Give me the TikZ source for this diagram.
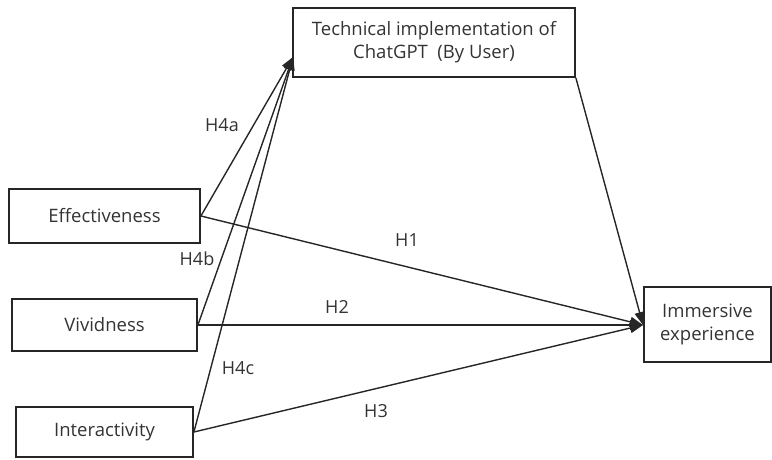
\documentclass[tikz,border=0pt]{standalone}
\usepackage{fontspec}
\setmainfont{Open Sans}
\usetikzlibrary{arrows.meta}
\begin{document}
\begin{tikzpicture}[x=1pt,y=-1pt,
  box/.style={draw=black!85,line width=1.8pt,inner sep=0pt,text=black!80,font=\fontsize{18.5}{23}\selectfont,align=center},
  conn/.style={draw=black!85,line width=1.4pt,-{Triangle[length=13pt,width=10pt]}},
  lab/.style={text=black!80,font=\fontsize{18}{22}\selectfont}]
\useasboundingbox (0,0) rectangle (772,459);
\node[box,minimum width=282pt,minimum height=69pt] (tech) at (434,42.5) {Technical implementation of\\ChatGPT\ \ (By User)};
\node[box,minimum width=191pt,minimum height=54pt] (eff) at (104.5,216) {Effectiveness};
\node[box,minimum width=185pt,minimum height=52pt] (viv) at (104.5,325) {Vividness};
\node[box,minimum width=177pt,minimum height=50pt] (int) at (104.5,432) {Interactivity};
\node[box,minimum width=127pt,minimum height=75pt] (imm) at (707.5,324.5) {Immersive\\experience};
\coordinate (tin) at (293,57);
\coordinate (iin) at (643,325);
\draw[conn] (eff.east) -- (tin);
\draw[conn] (viv.east) -- (tin);
\draw[conn] (int.east) -- (tin);
\draw[conn] (eff.east) -- (iin);
\draw[conn] (viv.east) -- (iin);
\draw[conn] (int.east) -- (iin);
\draw[conn] (tech.south east) -- (iin);
\node[lab] (h4a) at (222,125) {H4a};
\node[lab] (h4b) at (197,259) {H4b};
\node[lab] (h4c) at (238,368) {H4c};
\node[lab] (h1) at (407,240) {H1};
\node[lab] (h2) at (337,307) {H2};
\node[lab] (h3) at (376,411) {H3};
\end{tikzpicture}
\end{document}
